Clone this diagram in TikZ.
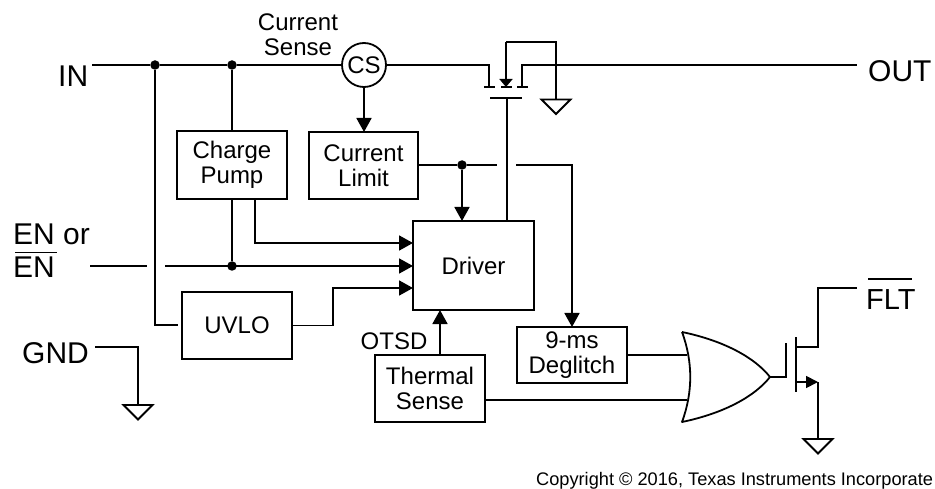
\documentclass[tikz,border=0pt]{standalone}
\usepackage{fontspec}
\usepackage{xcolor}
\setmainfont{Liberation Sans}
\usetikzlibrary{arrows.meta}
\newcommand{\barlabel}[3]{\rlap{\hspace{2pt}\raisebox{#2}{\rule{#1}{1.8pt}}}#3}

\begin{document}
\begin{tikzpicture}[
  x=1pt, y=-1pt,
  wire/.style={line width=1.8pt, line join=miter},
  flow/.style={wire, -{Triangle[length=14pt, width=15pt]}},
  block/.style={draw, line width=1.8pt, inner sep=0pt, outer sep=0pt, align=center, font=\fontsize{24}{25}\selectfont},
  dot/.style={circle, fill=black, inner sep=0pt, minimum size=9.5pt},
  pinlabel/.style={inner sep=0pt, anchor=base west, font=\fontsize{30}{32}\selectfont},
  smalllabel/.style={inner sep=0pt, align=center, font=\fontsize{24}{25}\selectfont},
  gnd/.pic={\draw[line width=1.8pt] (-14.5,0) -- (14.5,0) -- (0,14.5) -- cycle;}
]
\useasboundingbox (0,0) rectangle (935,489);

% blocks
\node[block, minimum width=110pt, minimum height=68pt] (pump) at (232,165) {Charge\\Pump};
\node[block, minimum width=109pt, minimum height=67pt] (limit) at (363.5,165.5) {Current\\Limit};
\node[block, minimum width=121pt, minimum height=89pt] (driver) at (473.5,265.5) {Driver};
\node[block, minimum width=110pt, minimum height=67pt] (uvlo) at (237,325.5) {UVLO};
\node[block, minimum width=110pt, minimum height=56pt] (deglitch) at (572,355) {9-ms\\Deglitch};
\node[block, minimum width=110pt, minimum height=67pt] (thermal) at (430,388.5) {Thermal\\Sense};
\node[draw, circle, line width=1.8pt, inner sep=0pt, outer sep=0pt, minimum size=44pt, font=\fontsize{24}{25}\selectfont] (cs) at (364,65) {CS};

% pin labels
\node[pinlabel] (in) at (58,87) {IN};
\node[pinlabel] (out) at (868,82) {OUT};
\node[pinlabel] (enor) at (13,245) {EN or};
\node[pinlabel] (en) at (13,278) {\barlabel{42pt}{24.5pt}{EN}};
\node[pinlabel] (gnd) at (22,363) {GND};
\node[pinlabel, font=\fontsize{29}{32}\selectfont] (flt) at (866,309) {\barlabel{44pt}{29pt}{FLT}};
\node[smalllabel] (sense) at (298,34.5) {Current\\Sense};
\node[smalllabel, anchor=base] (otsd) at (394,349) {OTSD};
\node[inner sep=0pt, anchor=base west, font=\fontsize{18.2}{20}\selectfont] (copy) at (536,485) {Copyright \textcopyright{} 2016, Texas Instruments Incorporate};

% IN rail
\coordinate (inend) at (92,65);
\node[dot] (j1) at (155,65) {};
\node[dot] (j2) at (232,65) {};
\coordinate (fetsrc) at (489,65);
\draw[wire] (inend) -- (j1) -- (j2) -- (cs.west);
\draw[wire] (cs.east) -- (fetsrc) -- (489,87);
\draw[wire] (j2) -- (pump.north);
\coordinate (uvloin) at (178,325);
\draw[wire] (j1) |- (uvloin);
\draw[flow] (cs.south) -- (limit.north -| cs.south);

% power FET
\draw[wire] (484,87) -- (495,87);
\draw[wire] (501,87) -- (512,87);
\draw[wire] (517,87) -- (528,87);
\draw[wire] (490,98) -- (522,98);
\draw[wire] (507,98) -- (507,221);
\draw[wire, -{Triangle[length=8pt, width=13pt]}] (506,42) -- (506,87);
\coordinate (body) at (556,42);
\coordinate (gndfet) at (556,99.5);
\draw[wire] (506,42) -- (body) -- (gndfet);
\pic at (gndfet) {gnd};
\coordinate (outend) at (857,65);
\draw[wire] (522,87) -- (522,65) -- (outend);

% driver inputs
\node[dot] (j3) at (232,266) {};
\draw[wire] (pump.south) -- (j3);
\coordinate (enstart) at (90,266);
\coordinate (engap) at (147,266);
\draw[wire] (enstart) -- (engap);
\draw[flow] (165,266) -- (413,266);
\draw[flow] (255,199) |- (413,243);
\draw[flow] (uvlo.east) -- (333,325.5) |- (413,288);
\draw[flow] (440,355) -- (440,310);

% current limit
\node[dot] (j4) at (462,165) {};
\draw[wire] (418,165) -- (j4) -- (497,165);
\draw[flow] (j4) -- (462,221);
\draw[flow] (516,165) -- (572,165) -- (572,327);

% OR gate
\coordinate (ortop) at (682,332);
\coordinate (ortip) at (770,377);
\coordinate (orbot) at (682,422);
\draw[wire, line join=round] (ortop) .. controls (725,341) and (755,358) .. (ortip)
  .. controls (755,396) and (725,413) .. (orbot)
  .. controls (693,392) and (693,362) .. (ortop);
\draw[wire] (627,355) -- (687,355);
\draw[wire] (485,400) -- (687,400);

% FLT FET
\draw[wire] (ortip) -- (786,377) -- (786,343);
\draw[wire] (796,337) -- (796,392);
\coordinate (fltend) at (857,288);
\draw[wire] (796,347) -- (818,347) -- (818,288) -- (fltend);
\coordinate (gndflt) at (818,439);
\draw[wire, -{Triangle[length=12pt, width=12pt]}] (796,382) -- (818,382);
\draw[wire] (818,382) -- (gndflt);
\pic at (gndflt) {gnd};

% GND pin
\coordinate (gndstart) at (95,347);
\coordinate (gndpin) at (138,405);
\draw[wire] (gndstart) -| (gndpin);
\pic at (gndpin) {gnd};
\end{tikzpicture}
\end{document}
